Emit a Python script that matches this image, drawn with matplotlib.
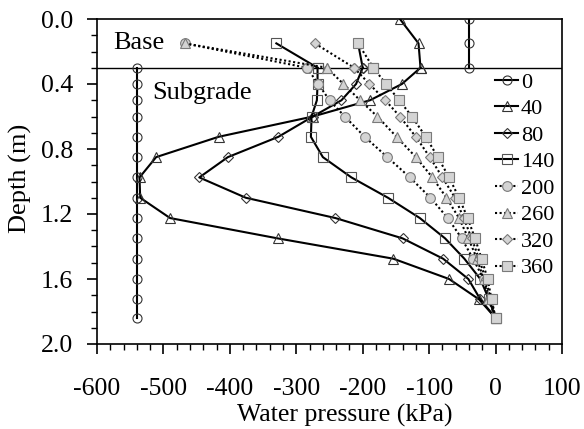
import matplotlib
matplotlib.use("Agg")
import matplotlib.pyplot as plt
from matplotlib.ticker import MultipleLocator, FormatStrFormatter

plt.rcParams['font.family'] = ['Liberation Serif', 'DejaVu Serif']
plt.rcParams['font.size'] = 18.5
plt.rcParams['axes.unicode_minus'] = False

# ---- data ----
series_names = ["0", "40", "80", "140", "200", "260", "320", "360"]

depth_base_0 = [0.0, 0.15, 0.3]
depth_base_40 = [0.0, 0.15, 0.3]
depth_base_rest = [0.15, 0.3]
depth_sub = [0.3, 0.4, 0.5, 0.6, 0.725, 0.85, 0.975, 1.1, 1.225, 1.35, 1.475, 1.6, 1.725, 1.84]

base_0 = [-40, -40, -40]
sub_0 = [-540] * 14

base_40 = [-144, -116, -113]
sub_40 = [-113, -141, -189, -275, -417, -511, -536, -535, -490, -328, -154, -70, -25, 0]

base_80 = [-207, -200]
sub_80 = [-200, -210, -232, -275, -327, -403, -446, -376, -241, -140, -79, -41, -23, 0]

base_140 = [-330, -268]
sub_140 = [-268, -268, -269, -277, -278, -260, -217, -162, -114, -76, -47, -23, -10, 0]

base_200 = [-468, -284]
sub_200 = [-284, -267, -250, -227, -197, -163, -129, -98, -72, -51, -34, -18, -8, 0]

base_260 = [-468, -254]
sub_260 = [-254, -229, -204, -178, -149, -120, -95, -74, -55, -41, -28, -18, -11, 0]

base_320 = [-272, -213]
sub_320 = [-213, -190, -166, -144, -120, -99, -80, -61, -48, -36, -25, -15, -7, 0]

base_360 = [-207, -184]
sub_360 = [-184, -165, -145, -126, -105, -87, -70, -55, -42, -31, -21, -12, -6, 0]

x_ticks = [-600, -500, -400, -300, -200, -100, 0, 100]
y_ticks = [0.0, 0.4, 0.8, 1.2, 1.6, 2.0]
boundary_depth = 0.3

# ---- styles ----
gray_fill = "#d4d4d4"
gray_edge = "#7a7a7a"
dot = (0, (1, 1.2))
styles = {
    "0":   dict(ls="-", marker="o", ms=6.5, mfc="none", mec="#333333", mew=0.8),
    "40":  dict(ls="-", marker="^", ms=6.5, mfc="none", mec="#333333", mew=0.8),
    "80":  dict(ls="-", marker="D", ms=5.0, mfc="none", mec="#333333", mew=0.8),
    "140": dict(ls="-", marker="s", ms=6.5, mfc="none", mec="#555555", mew=0.8),
    "200": dict(ls=dot, marker="o", ms=7.0, mfc=gray_fill, mec=gray_edge, mew=0.8),
    "260": dict(ls=dot, marker="^", ms=7.0, mfc=gray_fill, mec=gray_edge, mew=0.8),
    "320": dict(ls=dot, marker="D", ms=5.5, mfc=gray_fill, mec=gray_edge, mew=0.8),
    "360": dict(ls=dot, marker="s", ms=7.0, mfc=gray_fill, mec=gray_edge, mew=0.8),
}

data = {
    "0":   (depth_base_0, base_0, sub_0),
    "40":  (depth_base_40, base_40, sub_40),
    "80":  (depth_base_rest, base_80, sub_80),
    "140": (depth_base_rest, base_140, sub_140),
    "200": (depth_base_rest, base_200, sub_200),
    "260": (depth_base_rest, base_260, sub_260),
    "320": (depth_base_rest, base_320, sub_320),
    "360": (depth_base_rest, base_360, sub_360),
}

fig = plt.figure(figsize=(5.84, 4.29), dpi=100)
ax = fig.add_axes([97/584, 1 - 344/429, 465/584, 325/429])

ax.axhline(boundary_depth, color="black", lw=1.0, zorder=1)

for name in series_names:
    dbase, vbase, vsub = data[name]
    st = styles[name]
    ax.plot(vbase, dbase, color="black", lw=1.5, ls=st["ls"], marker=st["marker"], ms=st["ms"],
            mfc=st["mfc"], mec=st["mec"], mew=st["mew"], zorder=3)
    ax.plot(vsub, depth_sub, color="black", lw=1.5, ls=st["ls"], marker=st["marker"], ms=st["ms"],
            mfc=st["mfc"], mec=st["mec"], mew=st["mew"], zorder=3, label=name)

ax.set_xlim(-600, 100)
ax.set_ylim(2.0, 0.0)
ax.set_xticks(x_ticks)
ax.set_yticks(y_ticks)
ax.xaxis.set_minor_locator(MultipleLocator(20))
ax.yaxis.set_minor_locator(MultipleLocator(0.1))
ax.yaxis.set_major_formatter(FormatStrFormatter("%.1f"))
ax.tick_params(which="major", direction="out", length=7, width=1.2)
ax.tick_params(which="minor", direction="out", length=4, width=1.0)
ax.tick_params(axis="y", pad=10)
ax.tick_params(axis="x", pad=17.5)
for sp in ax.spines.values():
    sp.set_linewidth(1.2)

ax.set_xlabel("Water pressure (kPa)", fontsize=18.5)
ax.set_ylabel("Depth (m)", fontsize=19)
ax.xaxis.set_label_coords(0.533, -0.184)
ax.yaxis.set_label_coords(-0.14, 0.51)

ax.text(-576, 0.15, "Base", ha="left", va="center", fontsize=19)
ax.text(-517, 0.455, "Subgrade", ha="left", va="center", fontsize=19)

leg = ax.legend(loc="upper left", bbox_to_anchor=(495/584, 1 - 72/429), bbox_transform=fig.transFigure,
                frameon=False, borderpad=0, handlelength=1.04, handletextpad=0.13,
                labelspacing=0.27, borderaxespad=0, fontsize=16)

fig.savefig("out.png", dpi=100)
